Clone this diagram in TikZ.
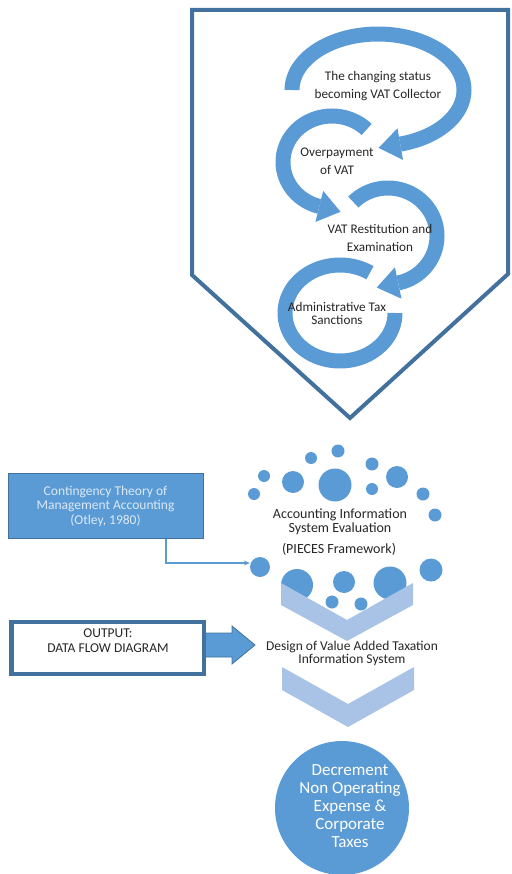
\documentclass[tikz,border=0pt]{standalone}
\usepackage{fontspec}
\setmainfont{Carlito}
\usetikzlibrary{arrows.meta}
\definecolor{mblue}{HTML}{5B9BD5}
\definecolor{dblue}{HTML}{41719C}
\definecolor{lblue}{HTML}{A9C3E6}
\definecolor{txt}{HTML}{262626}
\definecolor{boxtxt}{HTML}{DCE8F5}
\begin{document}
\begin{tikzpicture}[x=1pt,y=-1pt,
  band/.style={draw=mblue, line width=15pt, line cap=butt},
  head/.style={fill=mblue},
  lbl/.style={text=txt, align=center, inner sep=0pt, font=\fontsize{13.2}{18}\selectfont},
  dot/.style={circle, fill=mblue, inner sep=0pt},
  chev/.style={fill=lblue},
  conn/.style={draw=mblue, line width=1.2pt, -{Stealth[length=6pt,width=5pt]}}]
\useasboundingbox (0,0) rectangle (511,874);

% ---------- pentagon frame ----------
\draw[dblue, line width=4pt, line join=miter] (192,10) -- (508,10) -- (508,274) -- (350,418) -- (192,275) -- cycle;

% ---------- circular arrows ----------
% arrow 1
\draw[band] plot[domain=180:435, samples=90, smooth] ({378+86*cos(\x)},{90+56*sin(\x)});
\fill[head] (403.0,159.9) -- (378.6,147.9) -- (397.5,128.3) -- cycle;
% arrow 2
\draw[band] plot[domain=45:255, samples=80, smooth] ({332+49*cos(\x)},{162-46*sin(\x)});
\fill[head] (315.4,221.9) -- (340.6,211.8) -- (323.2,190.9) -- cycle;
% arrow 3
\draw[band] plot[domain=225:438, samples=80, smooth] ({388+49*cos(\x)},{236+48*sin(\x)});
\fill[head] (401.5,298.7) -- (376.7,287.5) -- (394.9,267.3) -- cycle;
% arrow 4
\draw[band] plot[domain=57:360, samples=100, smooth] ({340+55*cos(\x)},{313-48*sin(\x)});

% labels in the arrows
\node[lbl] (s1) at (378,86) {The changing status\\becoming VAT Collector};
\node[lbl] (s2) at (337,161) {Overpayment\\of VAT};
\node[lbl] (s3) at (380,237.5) {VAT Restitution and\\Examination};
\node[lbl, font=\fontsize{13.2}{13.5}\selectfont] (s4) at (337,313.5) {Administrative Tax\\Sanctions};

% ---------- dots (upper group) ----------
\node[dot, minimum size=13pt] (d1) at (338,451) {};
\node[dot, minimum size=12pt] (d2) at (311,458) {};
\node[dot, minimum size=13pt] (d3) at (372,464) {};
\node[dot, minimum size=12pt] (d4) at (264,476) {};
\node[dot, minimum size=22pt] (d5) at (293,482) {};
\node[dot, minimum size=33pt] (d6) at (335,485) {};
\node[dot, minimum size=12pt] (d7) at (372,489) {};
\node[dot, minimum size=22pt] (d8) at (397,477) {};
\node[dot, minimum size=12pt] (d9) at (254,494) {};
\node[dot, minimum size=13pt] (d10) at (423,494) {};
\node[dot, minimum size=13pt] (d11) at (435,515) {};
% lower group
\node[dot, minimum size=20pt] (d12) at (260,567) {};
\node[dot, minimum size=32pt] (d13) at (297,585) {};
\node[dot, minimum size=22pt] (d14) at (344,582) {};
\node[dot, minimum size=33pt] (d15) at (390,583) {};
\node[dot, minimum size=23pt] (d16) at (431,570) {};

% chevron 1
\fill[chev] (281,583) -- (347,620) -- (413,583) -- (413,605) -- (347,641) -- (281,605) -- cycle;
\node[dot, minimum size=13pt] (d17) at (332,602) {};
\node[dot, minimum size=13pt] (d18) at (361,604) {};

\node[lbl, font=\fontsize{14}{14}\selectfont] (ais) at (340,522) {Accounting Information\\System Evaluation};
\node[lbl, font=\fontsize{14}{14}\selectfont] (pieces) at (339,549) {(PIECES Framework)};

% contingency box
\node[draw=dblue, line width=0.8pt, fill=mblue, minimum width=195pt, minimum height=65pt,
      text=boxtxt, align=center, font=\fontsize{13.5}{14.5}\selectfont, inner sep=0pt] (box1)
      at (105.5,506) {Contingency Theory of\\Management Accounting\\(Otley, 1980)};
\draw[conn] ([xshift=60.5pt]box1.south) |- ([yshift=4pt]d12.west);

% output box
\fill[mblue, draw=dblue, line width=0.8pt] (205,633) -- (232,633) -- (232,626) -- (255,645) -- (232,664) -- (232,657) -- (205,657) -- cycle;
\node[draw=dblue, line width=4.5pt, fill=white, minimum width=192.5pt, minimum height=52pt, inner sep=0pt] (outbox) at (107.75,648) {};
\node[lbl, font=\fontsize{13.5}{15}\selectfont] (outtxt) at (108,640.5) {OUTPUT:\\DATA FLOW DIAGRAM};

\node[lbl, font=\fontsize{13.5}{13.5}\selectfont] (design) at (352,653.5) {Design of Value Added Taxation\\Information System};

% chevron 2
\fill[chev] (282,667) -- (348,704) -- (414,667) -- (414,690) -- (348,727) -- (282,690) -- cycle;

% goal circle
\node[circle, fill=mblue, minimum size=134pt, inner sep=0pt] (goal) at (342,808) {};
\node[align=center, text=white, inner sep=0pt, font=\fontsize{17}{18}\selectfont] (goaltxt) at (350,806)
  {Decrement\\Non Operating\\Expense \&\\Corporate\\Taxes};
\end{tikzpicture}
\end{document}
